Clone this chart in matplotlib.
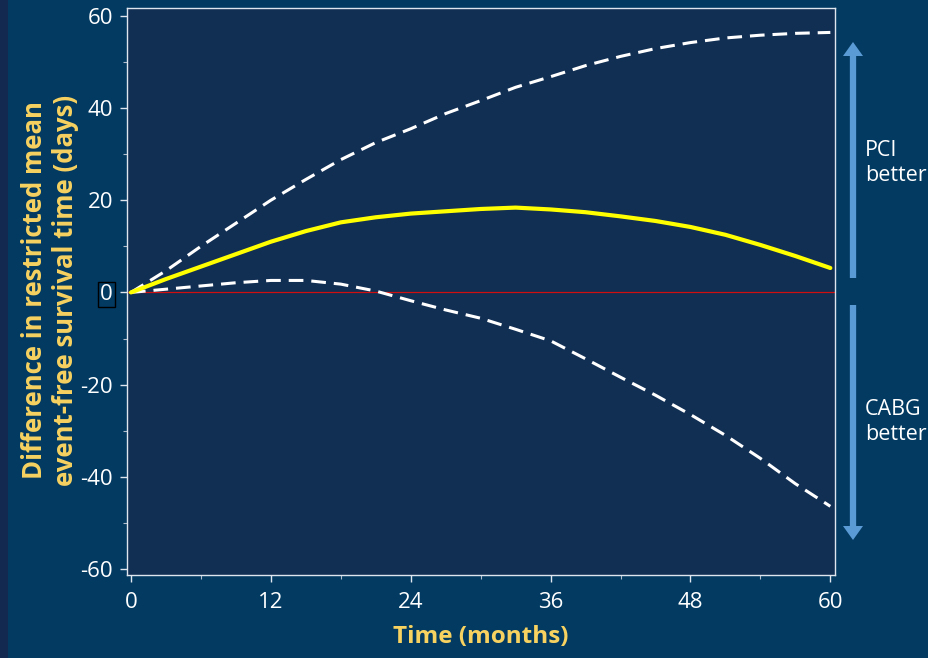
import matplotlib
matplotlib.use("Agg")
import matplotlib.pyplot as plt
from matplotlib.patches import FancyArrow

months = [0, 3, 6, 9, 12, 15, 18, 21, 24, 27, 30, 33, 36, 39, 42, 45, 48, 51, 54, 57, 60]
diff_mean = [0, 2.9, 5.6, 8.3, 11.0, 13.3, 15.2, 16.3, 17.1, 17.6, 18.1, 18.4, 18.0, 17.4, 16.5, 15.5, 14.2, 12.5, 10.3, 7.9, 5.3]
upper_ci = [0, 4.7, 10.0, 15.0, 20.0, 24.5, 28.8, 32.5, 35.5, 38.8, 41.6, 44.5, 46.8, 49.2, 51.2, 52.9, 54.2, 55.2, 55.8, 56.2, 56.4]
lower_ci = [0, 0.7, 1.4, 2.1, 2.6, 2.6, 1.8, 0.3, -1.8, -3.8, -5.6, -8.0, -10.5, -14.4, -18.4, -22.3, -26.5, -31.0, -36.0, -41.5, -46.4]
x_ticks = [0, 12, 24, 36, 48, 60]
y_ticks = [-60, -40, -20, 0, 20, 40, 60]

FONT = ['Liberation Sans Narrow', 'Open Sans', 'DejaVu Sans']
plt.rcParams['font.family'] = FONT

bg = '#023a62'
axbg = '#112e53'
yellow_txt = '#f7d260'

fig = plt.figure(figsize=(9.29, 6.58), dpi=100, facecolor=bg)
fig.patches.append(plt.Rectangle((0, 0), 8/929, 1, transform=fig.transFigure,
                                 facecolor='#13294f', edgecolor='none', zorder=0))

ax = fig.add_axes([127/929, 1-575/658, (835-127)/929, (575-8)/658])
ax.set_facecolor(axbg)

ax.axhline(0, color='#d01010', lw=0.9, zorder=1)
ax.plot(months, upper_ci, color='white', lw=2.2, dashes=(4.8, 2.6), zorder=2)
ax.plot(months, lower_ci, color='white', lw=2.2, dashes=(4.8, 2.6), zorder=2)
ax.plot(months, diff_mean, color='#ffff00', lw=3.0, zorder=3, solid_capstyle='round',
        solid_joinstyle='round')

ax.set_xlim(-0.34, 60.4)
ax.set_ylim(-61.3, 61.7)
ax.set_xticks(x_ticks)
ax.set_xticks([6, 18, 30, 42, 54], minor=True)
ax.set_yticks(y_ticks)
ax.set_yticks([-50, -30, -10, 10, 30, 50], minor=True)
ax.set_xticklabels([str(v) for v in x_ticks])
ax.set_yticklabels([str(v) for v in y_ticks])

for s in ax.spines.values():
    s.set_color('#dfe6ee')
    s.set_linewidth(1.0)
ax.tick_params(axis='both', which='major', colors='#dfe6ee', length=5, width=1,
               labelsize=16, labelcolor='white')
ax.tick_params(axis='both', which='minor', colors='#b0bccb', length=3, width=0.8)
ax.tick_params(axis='x', which='both', pad=7)
ax.tick_params(axis='y', which='major', pad=5)

for lbl in ax.get_yticklabels():
    if lbl.get_text() == '0':
        lbl.set_bbox(dict(facecolor='none', edgecolor='black', pad=1.5, lw=1))

ax.set_xlabel('Time (months)', color=yellow_txt, fontsize=17.5, fontweight='bold',
              labelpad=9)
fig.text(50/929, 1-290/658, 'Difference in restricted mean\nevent-free survival time (days)',
         rotation=90, ha='center', va='center', color=yellow_txt, fontsize=18.5,
         fontweight='bold', linespacing=1.15)

arrow_col = '#5b9bd5'
x_arr = 853/929
up = FancyArrow(x_arr, 1-278/658, 0, (278-42)/658, width=9/929*0.7, head_width=20/929,
                head_length=14/658, length_includes_head=True,
                transform=fig.transFigure, color=arrow_col, ec='none')
down = FancyArrow(x_arr, 1-305/658, 0, -(540-305)/658, width=9/929*0.7, head_width=20/929,
                  head_length=14/658, length_includes_head=True,
                  transform=fig.transFigure, color=arrow_col, ec='none')
fig.patches.extend([up, down])

fig.text(865/929, 1-163/658, 'PCI\nbetter', color='white', fontsize=15.5,
         ha='left', va='center', linespacing=1.25)
fig.text(865/929, 1-422/658, 'CABG\nbetter', color='white', fontsize=15.5,
         ha='left', va='center', linespacing=1.25)

fig.savefig('out.png', dpi=100, facecolor=bg)
